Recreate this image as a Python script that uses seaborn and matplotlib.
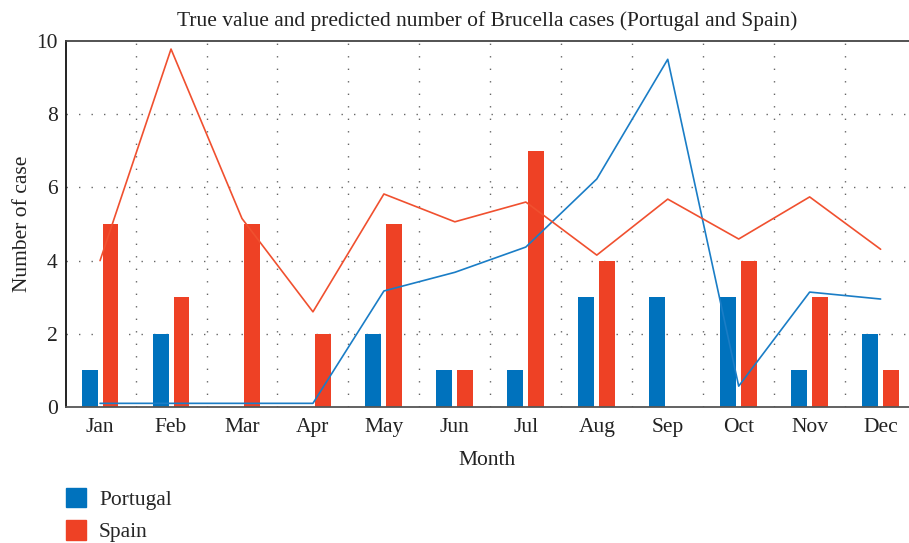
import numpy as np
import pandas as pd
import matplotlib
matplotlib.use("Agg")
import matplotlib.pyplot as plt
from matplotlib.patches import Patch
import seaborn as sns

months = ["Jan", "Feb", "Mar", "Apr", "May", "Jun", "Jul", "Aug", "Sep", "Oct", "Nov", "Dec"]
portugal_true = [1, 2, 0, 0, 2, 1, 1, 3, 3, 3, 1, 2]
spain_true = [5, 3, 5, 2, 5, 1, 7, 4, 0, 4, 3, 1]
portugal_pred = [0.1, 0.1, 0.1, 0.1, 3.17, 3.68, 4.37, 6.23, 9.5, 0.57, 3.14, 2.95]
spain_pred = [4.0, 9.78, 5.15, 2.6, 5.82, 5.06, 5.6, 4.15, 5.68, 4.59, 5.74, 4.31]

BLUE = "#0072BD"
RED = "#EE4125"
BLUE_LINE = "#1A7DC6"
RED_LINE = "#F0502F"
TXT = "#222222"

sns.set_theme(style="white")
plt.rcParams["font.family"] = ["Liberation Serif", "DejaVu Serif"]

bars = pd.DataFrame({
    "month": months * 2,
    "cases": portugal_true + spain_true,
    "country": ["Portugal"] * 12 + ["Spain"] * 12,
})

fig = plt.figure(figsize=(9.09, 5.43), dpi=100)
ax = fig.add_axes([66 / 909, 1 - 407 / 543, 1 - 66 / 909, (407 - 41) / 543])

sns.barplot(data=bars, x="month", y="cases", hue="country", order=months,
            palette=[BLUE, RED], width=0.59, gap=0.24, saturation=1,
            linewidth=0, legend=False, ax=ax, zorder=2)

pos = np.arange(len(months))
sns.lineplot(x=pos, y=portugal_pred, color=BLUE_LINE, lw=1.2, ax=ax, zorder=3)
sns.lineplot(x=pos, y=spain_pred, color=RED_LINE, lw=1.2, ax=ax, zorder=3)

ax.set_xlim(-0.48, 11.4)
ax.set_ylim(0, 10)
ax.set_yticks(range(0, 11, 2))
ax.set_xticks(pos)
ax.set_xticklabels(months)
ax.set_xticks(pos[:-1] + 0.5, minor=True)
ax.tick_params(axis="both", which="both", length=0, labelsize=15.5, colors=TXT)
ax.tick_params(axis="x", pad=8)
ax.tick_params(axis="y", pad=6)

ax.grid(False)
dots = (0, (1, 8))
ax.xaxis.grid(True, which="minor", linestyle=dots, color="#666666", lw=1)
for yv in [2, 4, 6, 8]:
    ax.axhline(yv, linestyle=dots, color="#666666", lw=1, zorder=0)

ax.spines["right"].set_visible(False)
ax.spines["top"].set_color("#444444")
ax.spines["bottom"].set_color("#555555")
ax.spines["left"].set_color("#111111")
for s in ["top", "bottom", "left"]:
    ax.spines[s].set_linewidth(1.3)

ax.set_xlabel("Month", fontsize=15.5, color=TXT, labelpad=10)
ax.set_ylabel("Number of case", fontsize=15.5, color=TXT, labelpad=3)
ax.set_title("True value and predicted number of Brucella cases (Portugal and Spain)",
             fontsize=15.5, color=TXT, pad=11)

handles = [Patch(color=BLUE, label="Portugal"), Patch(color=RED, label="Spain")]
fig.legend(handles=handles, loc="upper left", bbox_to_anchor=(57 / 909, 1 - 479 / 543),
           frameon=False, fontsize=15.5, handlelength=0.95, handleheight=1.0,
           handletextpad=0.6, labelspacing=0.5, borderaxespad=0)

fig.savefig("out.png", dpi=100)
